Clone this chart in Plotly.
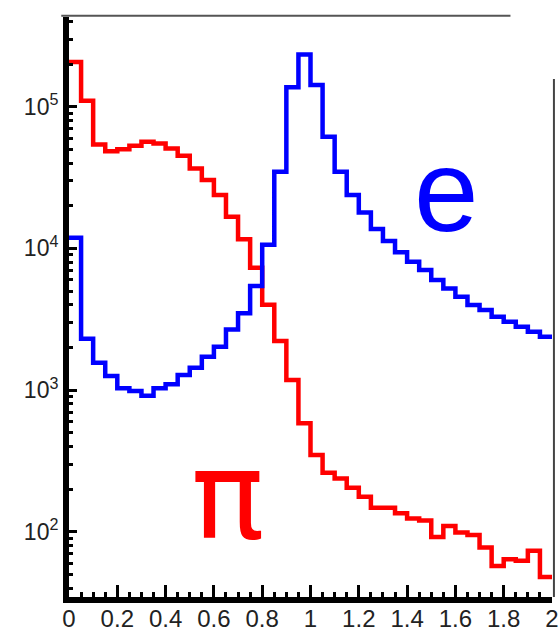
import numpy as np
import plotly.graph_objects as go

# Bin edges: 40 bins of width 0.05 from 0 to 2
bin_edges = [round(0.05 * i, 2) for i in range(41)]

# Pion counts per bin
pion_counts = [
    2.07e5, 1.1e5, 5.4e4, 4.85e4, 5.0e4, 5.3e4, 5.66e4, 5.5e4, 5.08e4, 4.5e4,
    3.67e4, 3.04e4, 2.38e4, 1.67e4, 1.16e4, 7.3e3, 4.0e3, 2.22e3, 1.18e3, 583,
    349, 261, 238, 205, 177, 148, 148, 135, 124, 120,
    92, 110, 99, 95, 77.6, 57.4, 64, 62.5, 73.6, 48,
]

# Electron counts per bin
electron_counts = [
    1.19e4, 2.30e3, 1.56e3, 1.26e3, 1.03e3, 986, 914, 1.03e3, 1.10e3, 1.28e3,
    1.44e3, 1.72e3, 2.02e3, 2.68e3, 3.48e3, 5.43e3, 1.06e4, 3.47e4, 1.37e5, 2.34e5,
    1.42e5, 6.14e4, 3.47e4, 2.38e4, 1.79e4, 1.37e4, 1.13e4, 9.4e3, 8.05e3, 7.04e3,
    5.98e3, 5.22e3, 4.56e3, 3.99e3, 3.67e3, 3.30e3, 3.04e3, 2.80e3, 2.58e3, 2.38e3,
]

x_tick_vals = [0, 0.2, 0.4, 0.6, 0.8, 1, 1.2, 1.4, 1.6, 1.8, 2]
x_tick_text = ["0", "0.2", "0.4", "0.6", "0.8", "1", "1.2", "1.4", "1.6", "1.8", "2"]
y_tick_vals = [1e2, 1e3, 1e4, 1e5]
y_tick_text = ["10<sup>2</sup>", "10<sup>3</sup>", "10<sup>4</sup>", "10<sup>5</sup>"]


def step_trace(counts, color):
    # histogram outline: each value held across its bin
    return go.Scatter(
        x=bin_edges,
        y=list(counts) + [counts[-1]],
        mode="lines",
        line=dict(shape="hv", color=color, width=4.5),
        showlegend=False,
        hoverinfo="skip",
    )


fig = go.Figure()
fig.add_trace(step_trace(pion_counts, "#ff0000"))
fig.add_trace(step_trace(electron_counts, "#0000ff"))

font_family = "Liberation Sans, Arial, sans-serif"

fig.update_layout(
    width=559,
    height=632,
    margin=dict(l=69, r=7, t=17, b=35, autoexpand=False),
    paper_bgcolor="white",
    plot_bgcolor="white",
    font=dict(family=font_family, color="#222"),
    xaxis=dict(
        range=[0, 2],
        automargin=False,
        tickvals=x_tick_vals,
        ticktext=x_tick_text,
        ticks="inside",
        ticklen=12,
        tickwidth=3,
        tickcolor="black",
        tickfont=dict(size=24, color="#222"),
        ticklabelstandoff=-5,
        showline=True,
        linewidth=6,
        linecolor="black",
        showgrid=False,
        zeroline=False,
        minor=dict(dtick=0.05, ticks="inside", ticklen=5, tickwidth=2.5,
                   tickcolor="black", showgrid=False),
    ),
    yaxis=dict(
        type="log",
        range=[1.540, 5.633],
        automargin=False,
        tickvals=y_tick_vals,
        ticktext=y_tick_text,
        ticks="inside",
        ticklen=8,
        tickwidth=3,
        tickcolor="black",
        tickfont=dict(size=23, color="#222"),
        showline=True,
        linewidth=6,
        linecolor="black",
        showgrid=False,
        zeroline=False,
        minor=dict(dtick="D1", ticks="inside", ticklen=4, tickwidth=2.5,
                   tickcolor="black", showgrid=False),
    ),
)

# species labels
fig.add_annotation(x=0.781, y=0.70, xref="paper", yref="paper", text="e", showarrow=False,
                   xanchor="center", yanchor="middle",
                   font=dict(size=116, color="#0000ff", family=font_family))
fig.add_annotation(x=0.328, y=0.174, xref="paper", yref="paper", text="π", showarrow=False,
                   xanchor="center", yanchor="middle",
                   font=dict(size=122, color="#ff0000", family="DejaVu Sans, sans-serif"))

# surrounding frame pieces
fig.add_shape(type="line", xref="paper", yref="paper", x0=-0.016, x1=0.914, y0=1.002, y1=1.002,
              line=dict(color="#555", width=2))
fig.add_shape(type="line", xref="paper", yref="paper", x0=1.004, x1=1.004, y0=0, y1=0.893,
              line=dict(color="#444", width=2))

fig.write_html("out.html")
